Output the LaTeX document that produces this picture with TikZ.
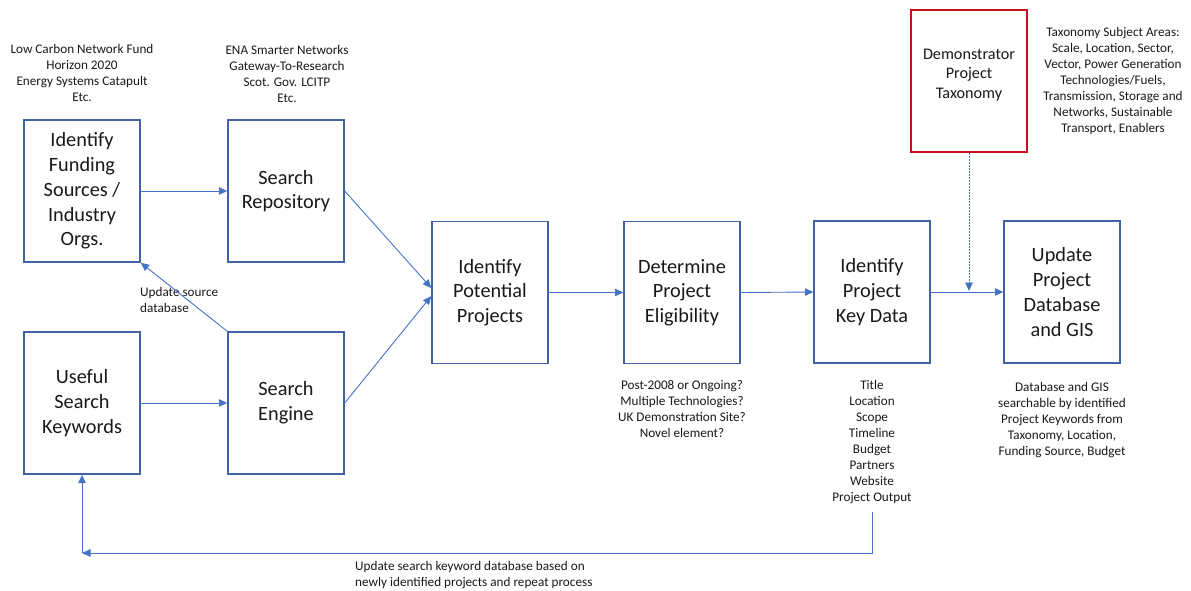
\documentclass[tikz,border=0pt]{standalone}
\usepackage{fontspec}
\setmainfont{Carlito}
\usetikzlibrary{arrows.meta}
\definecolor{boxblue}{RGB}{66,98,168}
\definecolor{arrblue}{RGB}{68,114,196}
\definecolor{boxred}{RGB}{200,16,30}
\definecolor{txt}{RGB}{25,25,25}
\begin{document}
\begin{tikzpicture}[x=1pt,y=-1pt,
  stepbox/.style={draw=boxblue,line width=1.4pt,minimum width=116pt,minimum height=142pt,inner sep=0pt,align=center,text=txt,font=\fontsize{20.3}{24.7}\selectfont},
  redbox/.style={draw=boxred,line width=1.4pt,minimum width=116pt,minimum height=142pt,inner sep=0pt},
  note/.style={align=center,text=txt,inner sep=0pt,font=\fontsize{13.2}{16}\selectfont},
  arr/.style={draw=arrblue,line width=0.9pt,-{Triangle[length=8.5pt,width=7.5pt]}},
]
\useasboundingbox (0,0) rectangle (1191,590);
% boxes
\node[stepbox] (fund) at (82,191) {Identify\\Funding\\Sources /\\Industry\\Orgs.};
\node[stepbox] (repo) at (286,191) {Search\\Repository};
\node[stepbox] (kw) at (82,403) {Useful\\Search\\Keywords};
\node[stepbox] (eng) at (286,403) {Search\\Engine};
\node[stepbox] (pot) at (490,292.5) {Identify\\Potential\\Projects};
\node[stepbox] (elig) at (682,292.5) {Determine\\Project\\Eligibility};
\node[stepbox] (kd) at (872,292) {Identify\\Project\\Key Data};
\node[stepbox] (db) at (1062,292) {Update\\Project\\Database\\and GIS};
\node[redbox] (demo) at (969,81) {};
\node[align=center,text=txt,font=\fontsize{16.2}{19.5}\selectfont] (demot) at (969,75) {Demonstrator\\Project\\Taxonomy};
% notes
\node[note] (n1) at (82,73) {Low Carbon Network Fund\\Horizon 2020\\Energy Systems Catapult\\Etc.};
\node[note] (n2) at (287,74) {ENA Smarter Networks\\Gateway-To-Research\\Scot. Gov. LCITP\\Etc.};
\node[note] (n3) at (682,409) {Post-2008 or Ongoing?\\Multiple Technologies?\\UK Demonstration Site?\\Novel element?};
\node[note] (n4) at (872,442) {Title\\Location\\Scope\\Timeline\\Budget\\Partners\\Website\\Project Output};
\node[note] (n5) at (1062,420) {Database and GIS\\searchable by identified\\Project Keywords from\\Taxonomy, Location,\\Funding Source, Budget};
\node[note] (n6) at (1113,81) {Taxonomy Subject Areas:\\Scale, Location, Sector,\\Vector, Power Generation\\Technologies/Fuels,\\Transmission, Storage and\\Networks, Sustainable\\Transport, Enablers};
\node[note,align=left,anchor=west] (n7) at (140,300) {Update source\\database};
\node[note,align=left,anchor=west] (n8) at (355,575) {Update search keyword database based on\\newly identified projects and repeat process};
% connectors
\draw[arr] (fund.east) -- (repo.west);
\draw[arr] (kw.east) -- (eng.west);
\draw[arr] (repo.east) -- ([yshift=4.5pt]pot.west);
\draw[arr] (eng.east) -- ([yshift=-3.5pt]pot.west);
\draw[arr] (eng.north west) -- (fund.south east);
\draw[arr] (pot.east) -- (elig.west);
\draw[arr] (elig.east) -- (kd.west);
\draw[arr] (kd.east) -- (db.west);
\coordinate (demoend) at (969,291);
\draw[arr,dash pattern=on 2pt off 1pt] (demo.south) -- (demoend);
\coordinate (fbstart) at (872,512);
\coordinate (fbcorner) at (82,553);
\draw[arr] (fbstart) |- (fbcorner);
\draw[arr] (fbcorner) -- (kw.south);
\end{tikzpicture}
\end{document}
